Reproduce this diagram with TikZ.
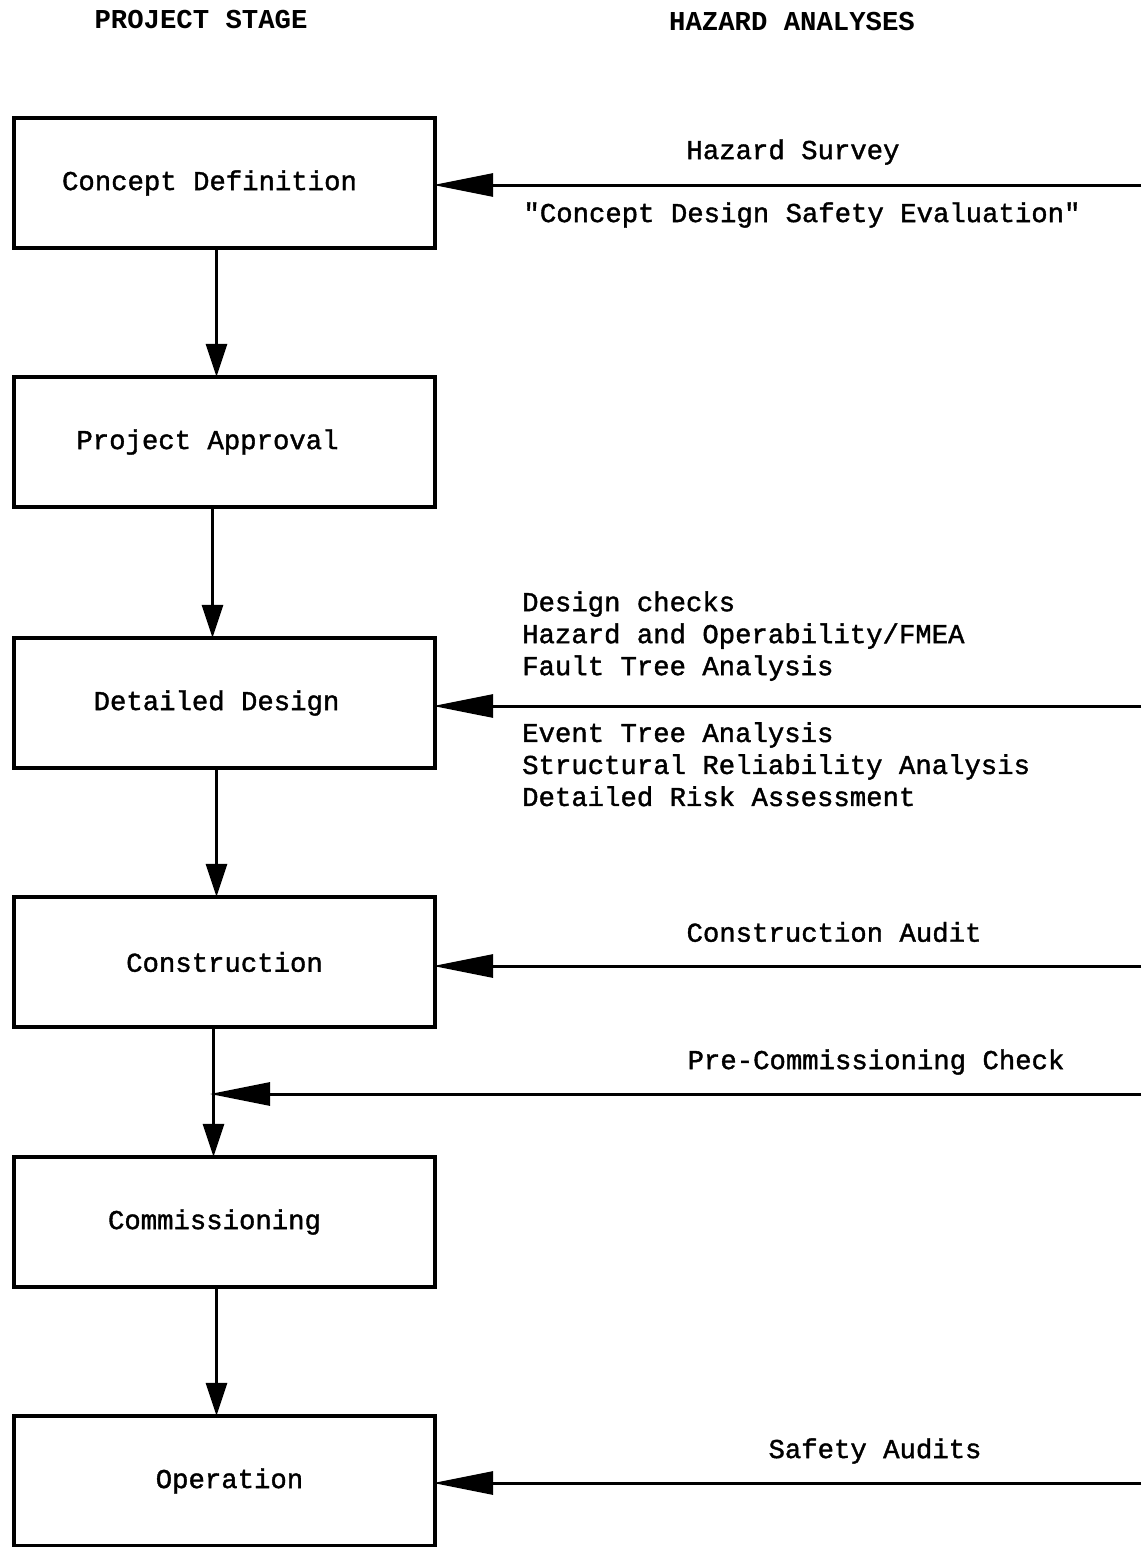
\documentclass[tikz,border=0pt]{standalone}
\usepackage{fontspec}
\setmonofont{Liberation Mono}
\newfontfamily\typewriter[FakeBold=1.4]{Liberation Mono}
\usetikzlibrary{arrows.meta}
\begin{document}
\begin{tikzpicture}[x=1pt,y=-1pt,
  txt/.style={font=\fontsize{27.3}{32}\selectfont\typewriter, inner sep=0pt},
  head/.style={font=\fontsize{27.3}{32}\selectfont\ttfamily\bfseries, inner sep=0pt},
  stagebox/.style={draw, line width=3.4pt, minimum width=421pt, minimum height=130pt,
    inner sep=0pt},
  boxtext/.style={font=\fontsize{27.3}{32}\selectfont\typewriter, inner sep=0pt},
  flow/.style={line width=3pt, shorten >=-1.5pt, -{Triangle[length=33pt,width=21pt]}},
  feed/.style={line width=3pt, shorten >=-3.5pt, -{Triangle[length=60pt,width=23pt]}}]
\useasboundingbox (0,0) rectangle (1141,1547);

% column headings
\node[head] (h1) at (201,20) {PROJECT STAGE};
\node[head] (h2) at (792,22) {HAZARD ANALYSES};

% project stages
\node[stagebox, label={[boxtext, xshift=-15pt]center:Concept Definition}] (b1) at (224.5,183) {};
\node[stagebox, label={[boxtext, xshift=-17pt]center:Project Approval}] (b2) at (224.5,442) {};
\node[stagebox, label={[boxtext, xshift=-8pt]center:Detailed Design}] (b3) at (224.5,703) {};
\node[stagebox, label={[boxtext, xshift=0pt]center:Construction}] (b4) at (224.5,962) {};
\node[stagebox, label={[boxtext, xshift=-10pt]center:Commissioning}] (b5) at (224.5,1222) {};
\node[stagebox, label={[boxtext, xshift=5pt]center:Operation}] (b6) at (224.5,1481) {};

% stage-to-stage flow
\draw[flow] ([xshift=-8pt]b1.south) -- ([xshift=-8pt]b2.north);
\draw[flow] ([xshift=-12pt]b2.south) -- ([xshift=-12pt]b3.north);
\draw[flow] ([xshift=-8pt]b3.south) -- ([xshift=-8pt]b4.north);
\draw[flow] ([xshift=-11pt]b4.south) coordinate (pc) -- ([xshift=-11pt]b5.north);
\draw[flow] ([xshift=-8pt]b5.south) -- ([xshift=-8pt]b6.north);

% hazard analyses feeding each stage
\coordinate (r1) at (1141,185);
\coordinate (r3) at (1141,706);
\coordinate (r4) at (1141,966);
\coordinate (r45) at (1141,1094);
\coordinate (r6) at (1141,1483);

\draw[feed] (r1) -- (r1 -| b1.east);
\draw[feed] (r3) -- (r3 -| b3.east);
\draw[feed] (r4) -- (r4 -| b4.east);
\draw[feed] (r45) -- (r45 -| pc);
\draw[feed] (r6) -- (r6 -| b6.east);

% analysis labels
\node[txt] (a1) at (793,152) {Hazard Survey};
\node[txt] (a2) at (802,215) {"Concept Design Safety Evaluation"};
\node[txt, anchor=south west, align=left] (a3) at (522,681) {Design checks\\Hazard and Operability/FMEA\\Fault Tree Analysis};
\node[txt, anchor=north west, align=left] (a4) at (522,722) {Event Tree Analysis\\Structural Reliability Analysis\\Detailed Risk Assessment};
\node[txt] (a5) at (834,932) {Construction Audit};
\node[txt] (a6) at (876,1062) {Pre-Commissioning Check};
\node[txt] (a7) at (875,1451) {Safety Audits};
\end{tikzpicture}
\end{document}
